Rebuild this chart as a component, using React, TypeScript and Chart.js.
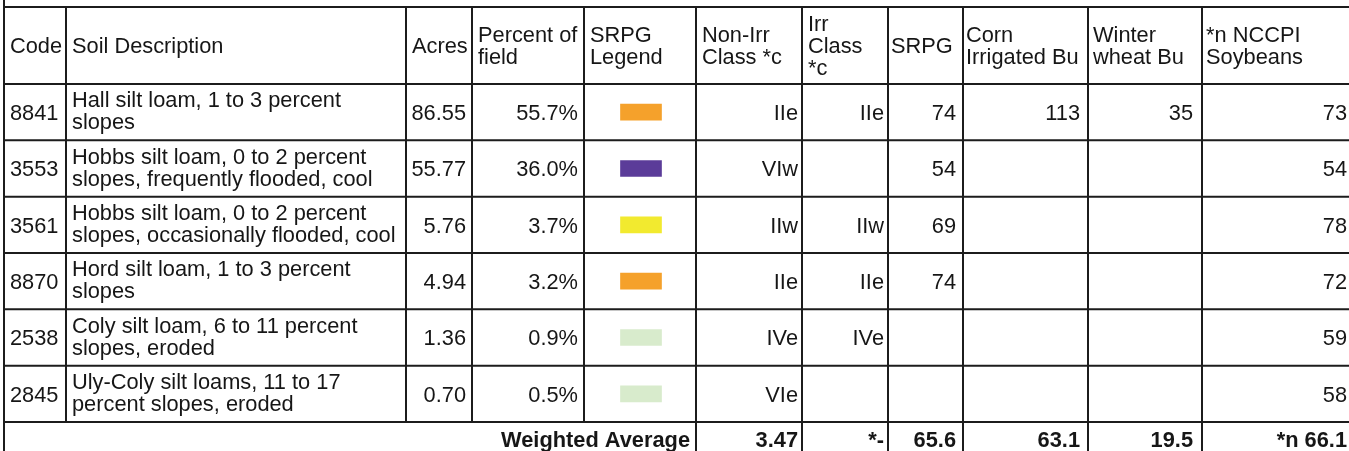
import React, { useEffect, useRef } from 'react';
import { Chart, registerables } from 'chart.js';

Chart.register(...registerables);

// ---------- data ----------
const codes = ['8841', '3553', '3561', '8870', '2538', '2845'];
const descriptions = [
  ['Hall silt loam, 1 to 3 percent', 'slopes'],
  ['Hobbs silt loam, 0 to 2 percent', 'slopes, frequently flooded, cool'],
  ['Hobbs silt loam, 0 to 2 percent', 'slopes, occasionally flooded, cool'],
  ['Hord silt loam, 1 to 3 percent', 'slopes'],
  ['Coly silt loam, 6 to 11 percent', 'slopes, eroded'],
  ['Uly-Coly silt loams, 11 to 17', 'percent slopes, eroded'],
];
const acres = [86.55, 55.77, 5.76, 4.94, 1.36, 0.7];
const percentOfField = [55.7, 36.0, 3.7, 3.2, 0.9, 0.5];
const srpgLegendColors = ['#F5A12B', '#5B3C99', '#F2EA2F', '#F5A12B', '#D8EBCC', '#D8EBCC'];
const nonIrrClass = ['IIe', 'VIw', 'IIw', 'IIe', 'IVe', 'VIe'];
const irrClass = ['IIe', '', 'IIw', 'IIe', 'IVe', ''];
const srpg: (number | null)[] = [74, 54, 69, 74, null, null];
const cornIrrigated: (number | null)[] = [113, null, null, null, null, null];
const winterWheat: (number | null)[] = [35, null, null, null, null, null];
const nccpiSoybeans = [73, 54, 78, 72, 59, 58];

const headers = [
  ['Code'],
  ['Soil Description'],
  ['Acres'],
  ['Percent of', 'field'],
  ['SRPG', 'Legend'],
  ['Non-Irr', 'Class *c'],
  ['Irr', 'Class', '*c'],
  ['SRPG'],
  ['Corn', 'Irrigated Bu'],
  ['Winter', 'wheat Bu'],
  ['*n NCCPI', 'Soybeans'],
];
const weightedAverageLabel = 'Weighted Average';
const weightedAverages = ['3.47', '*-', '65.6', '63.1', '19.5', '*n 66.1'];

// ---------- layout ----------
const W = 1349;
const H = 451;
const COL_EDGES = [4, 66, 406, 472, 584, 696, 802, 888, 963, 1088, 1202, 1353];
const HEADER_LEFT_PAD = [6, 6, 6, 6, 6, 6, 6, 3, 3, 5, 4];
const RIGHT_PAD = [6, 6, 6, 6, 6, 4, 4, 7, 8, 9, 6];
const HEADER_TOP = 7;
const BODY_TOP = 84;
const BODY_BOTTOM = 422;
const FOOTER_BOTTOM = 456;
const FONT_FAMILY = '"Liberation Sans", Arial, Helvetica, sans-serif';
const FONT_SIZE = 21.8;
const LINE_H = 22;
const CAP_OFFSET = FONT_SIZE * 0.358;
const SWATCH_W = 41;
const SWATCH_H = 16;
const LINE_COLOR = '#1c1c1c';
const TEXT_COLOR = '#161616';

const fmtNum = (v: number | null) => (v === null ? '' : String(v));

const bodyColumns: (string[] | null)[] = [
  codes,
  null,
  acres.map((v) => v.toFixed(2)),
  percentOfField.map((v) => v.toFixed(1) + '%'),
  null,
  nonIrrClass,
  irrClass,
  srpg.map(fmtNum),
  cornIrrigated.map(fmtNum),
  winterWheat.map(fmtNum),
  nccpiSoybeans.map((v) => String(v)),
];

const swatchCol = 4;
const swatchCenter = (COL_EDGES[swatchCol] + COL_EDGES[swatchCol + 1]) / 2 + 1;

const tablePlugin = {
  id: 'soilTable',
  beforeDraw(chart: any) {
    const ctx = chart.ctx;
    ctx.save();
    ctx.fillStyle = '#ffffff';
    ctx.fillRect(0, 0, chart.width, chart.height);
    ctx.restore();
  },
  afterDatasetsDraw(chart: any) {
    const ctx: CanvasRenderingContext2D = chart.ctx;
    const xs = chart.scales.x;
    const ys = chart.scales.y;
    const X = (v: number) => xs.getPixelForValue(v);
    const n = codes.length;
    const band = n > 1 ? ys.getPixelForValue(1) - ys.getPixelForValue(0) : ys.bottom - ys.top;
    const rowCenter = (i: number) => ys.getPixelForValue(i);
    const rowTop = (i: number) => rowCenter(i) - band / 2;
    const bodyBottom = rowCenter(n - 1) + band / 2;

    const drawLines = (
      lines: string[],
      x: number,
      cy: number,
      align: CanvasTextAlign,
      bold = false,
      shift = 0
    ) => {
      ctx.font = `${bold ? 'bold ' : ''}${FONT_SIZE}px ${FONT_FAMILY}`;
      ctx.textAlign = align;
      ctx.textBaseline = 'alphabetic';
      ctx.fillStyle = TEXT_COLOR;
      const m = lines.length;
      lines.forEach((t, k) => {
        const y = cy - ((m - 1) * LINE_H) / 2 + k * LINE_H + CAP_OFFSET + (m > 1 ? shift : 0);
        ctx.fillText(t, x, y);
      });
    };

    ctx.save();
    // header text
    const headerCenter = (HEADER_TOP + rowTop(0)) / 2;
    headers.forEach((h, c) => {
      drawLines(h, X(COL_EDGES[c]) + HEADER_LEFT_PAD[c], headerCenter, 'left');
    });

    // body text
    for (let i = 0; i < n; i++) {
      const cy = rowCenter(i);
      bodyColumns.forEach((col, c) => {
        if (c === 1) {
          drawLines(descriptions[i], X(COL_EDGES[1]) + 6, cy, 'left', false, -1.5);
          return;
        }
        if (!col) return;
        const txt = col[i];
        if (!txt) return;
        if (c === 0) {
          drawLines([txt], X(COL_EDGES[0]) + 6, cy, 'left');
        } else {
          drawLines([txt], X(COL_EDGES[c + 1]) - RIGHT_PAD[c], cy, 'right');
        }
      });
    }

    // footer (weighted average)
    const footCenter = (bodyBottom + FOOTER_BOTTOM) / 2;
    drawLines([weightedAverageLabel], X(COL_EDGES[5]) - 6, footCenter, 'right', true);
    weightedAverages.forEach((t, k) => {
      const c = 5 + k;
      drawLines([t], X(COL_EDGES[c + 1]) - RIGHT_PAD[c], footCenter, 'right', true);
    });

    // grid lines
    ctx.strokeStyle = LINE_COLOR;
    ctx.lineWidth = 2;
    ctx.beginPath();
    const left = X(COL_EDGES[0]);
    const right = X(COL_EDGES[COL_EDGES.length - 1]);
    const hLine = (y: number) => {
      ctx.moveTo(left, y);
      ctx.lineTo(right, y);
    };
    hLine(HEADER_TOP);
    for (let i = 0; i < n; i++) hLine(rowTop(i));
    hLine(bodyBottom);
    hLine(FOOTER_BOTTOM);
    // left border spans from top of page
    ctx.moveTo(left, 0);
    ctx.lineTo(left, FOOTER_BOTTOM);
    COL_EDGES.forEach((e, c) => {
      if (c === 0) return;
      const x = X(e);
      ctx.moveTo(x, HEADER_TOP);
      ctx.lineTo(x, c >= 5 ? FOOTER_BOTTOM : bodyBottom);
    });
    ctx.stroke();
    ctx.restore();
  },
};

export default function App() {
  const ref = useRef<HTMLCanvasElement | null>(null);
  useEffect(() => {
    if (!ref.current) return;
    const chart = new Chart(ref.current, {
      type: 'bar',
      data: {
        labels: codes,
        datasets: [
          {
            label: 'SRPG Legend',
            data: srpgLegendColors.map(() => [swatchCenter - SWATCH_W / 2, swatchCenter + SWATCH_W / 2]) as any,
            backgroundColor: srpgLegendColors,
            borderWidth: 0,
            barThickness: SWATCH_H,
          },
        ],
      },
      options: {
        indexAxis: 'y',
        responsive: false,
        maintainAspectRatio: false,
        animation: false,
        events: [],
        layout: { padding: { top: BODY_TOP, bottom: H - BODY_BOTTOM, left: 0, right: 0 } },
        scales: {
          x: { type: 'linear', min: 0, max: W, display: false },
          y: { type: 'category', display: false, offset: true },
        },
        plugins: { legend: { display: false }, tooltip: { enabled: false }, title: { display: false } },
      },
      plugins: [tablePlugin],
    });
    return () => chart.destroy();
  }, []);
  return (
    <div style={{ position: 'absolute', left: 0, top: 0, width: W, height: H, background: '#fff' }}>
      <canvas ref={ref} width={W} height={H} style={{ display: 'block' }} />
    </div>
  );
}
